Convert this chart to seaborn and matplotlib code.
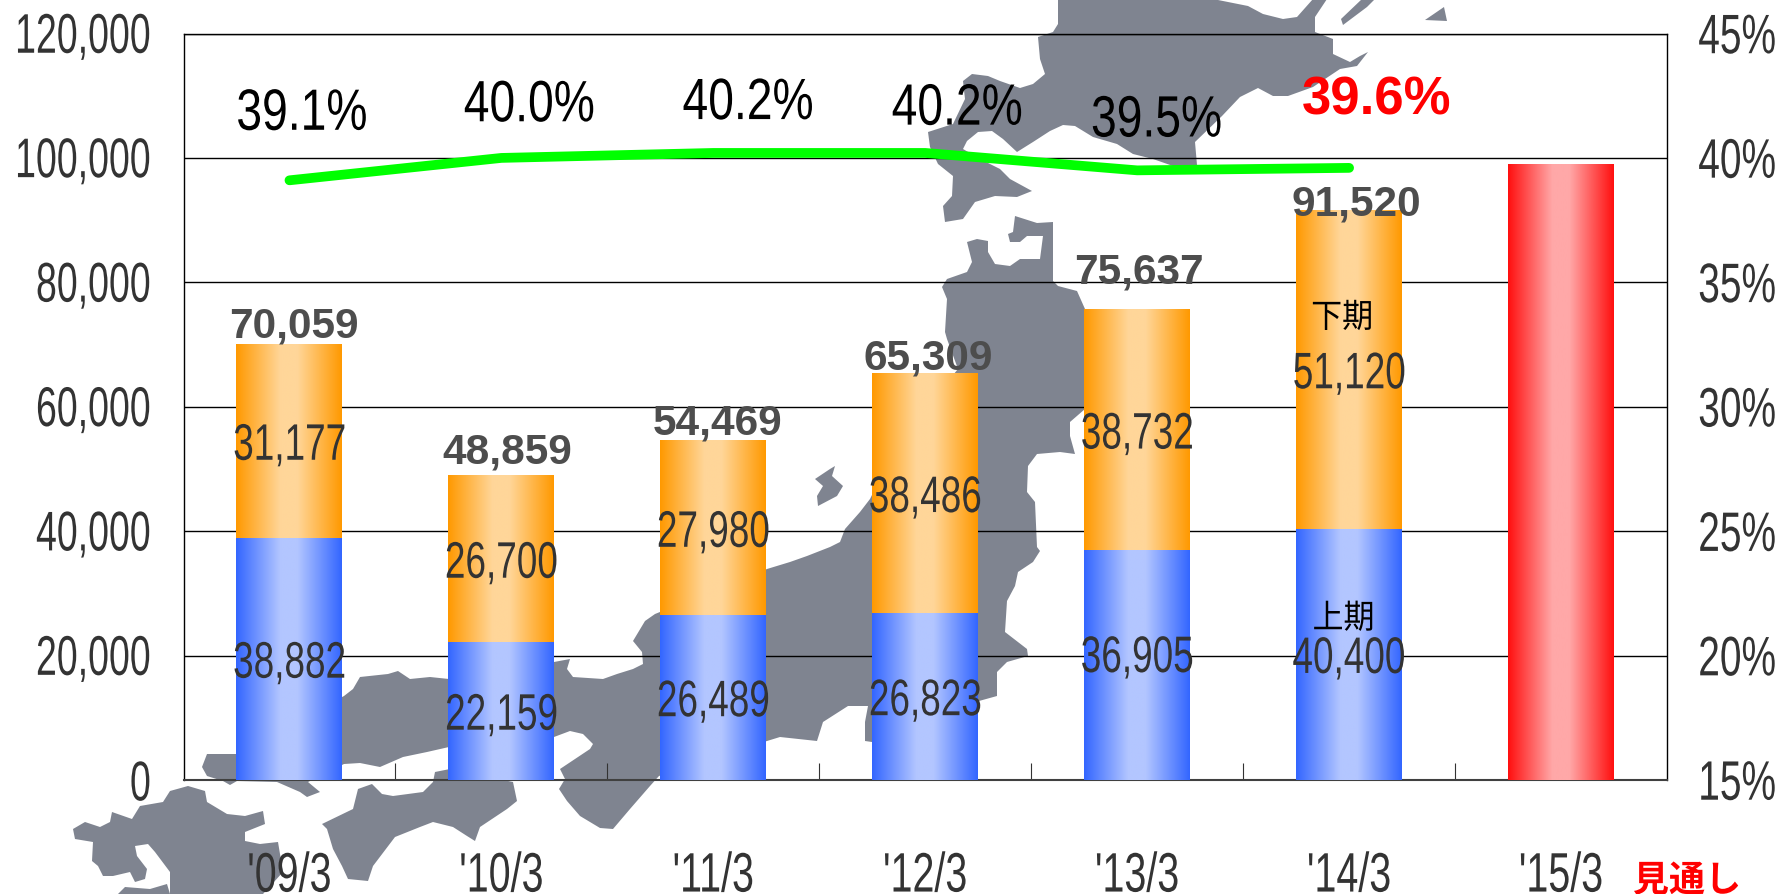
import matplotlib
matplotlib.use('Agg')
import matplotlib.pyplot as plt
import matplotlib.patheffects as pe
from matplotlib.colors import LinearSegmentedColormap
from matplotlib.transforms import Affine2D
import numpy as np
import pandas as pd
import seaborn as sns

years = ["'09/3", "'10/3", "'11/3", "'12/3", "'13/3", "'14/3", "'15/3"]
first_half = [38882, 22159, 26489, 26823, 36905, 40400]
second_half = [31177, 26700, 27980, 38486, 38732, 51120]
totals = [70059, 48859, 54469, 65309, 75637, 91520]
forecast = [99000]
ratio = [39.1, 40.0, 40.2, 40.2, 39.5, 39.6]
ratio_labels = ['39.1%', '40.0%', '40.2%', '40.2%', '39.5%', '39.6%']
yticks_left = [0, 20000, 40000, 60000, 80000, 100000, 120000]
yticks_right = [15, 20, 25, 30, 35, 40, 45]

# label nudges in points, relative to the top of the bar / the line point
total_offsets = [(3, 13.5), (4, 17.5), (3, 13.5), (2.5, 11.5), (1.6, 27.5), (5, 5)]
ratio_offsets = [(9, 48), (20, 38), (25, 36), (23, 32), (14, 36), (20, 49.5)]

# background map outlines, in image pixels
hokkaido = [(1058,0),(1058,25),(1053,33),(1038,38),(1040,60),(1045,75),(1033,85),(1020,89),(1000,82),
    (988,77),(972,75),(963,82),(965,100),(953,125),(928,133),(930,148),(938,165),(953,177),(952,197),
    (943,207),(945,223),(963,220),(975,203),(995,197),(1017,198),(1032,192),(1010,180),(1000,170),
    (980,160),(963,150),(967,142),(978,133),(992,132),(1003,140),(1017,153),(1033,143),(1050,132),
    (1063,126),(1075,127),(1093,138),(1117,145),(1133,155),(1153,160),(1173,167),(1197,166),(1195,143),
    (1222,117),(1240,98),(1258,89),(1273,97),(1288,97),(1313,88),(1340,70),(1357,67),(1368,53),(1360,57),
    (1350,63),(1333,55),(1333,40),(1315,33),(1315,18),(1327,0),(1313,0),(1297,18),(1283,20),(1263,15),
    (1248,7),(1213,0)]
kuril_a = [(1343,26),(1367,8),(1375,0),(1362,0),(1341,20)]
kuril_b = [(1425,21),(1444,8),(1447,22)]
honshu = [(1015,217),(1013,233),(1008,235),(1010,243),(1020,243),(1027,237),(1043,237),(1040,260),
    (1020,260),(1010,267),(995,265),(988,253),(988,242),(977,240),(967,243),(972,263),(967,273),(947,280),
    (942,288),(947,300),(945,333),(947,340),(958,370),(900,440),(870,500),(860,513),(845,530),(840,543),
    (830,548),(807,557),(790,563),(767,570),(655,615),(645,622),(633,642),(642,653),(643,665),(633,670),
    (617,675),(603,680),(573,678),(567,670),(570,660),(554,663),(449,680),(430,678),(410,680),(398,672),
    (388,675),(360,678),(353,690),(344,697),(236,755),(207,755),(202,768),(207,777),(223,782),(230,786),
    (237,782),(277,783),(300,793),(307,798),(320,793),(308,783),(344,765),(360,764),(380,768),(403,758),
    (427,753),(449,748),(554,738),(570,732),(583,735),(593,745),(590,750),(560,770),(565,780),(559,790),
    (567,802),(580,817),(600,829),(613,830),(630,810),(650,787),(659,777),(767,742),(780,738),(817,742),
    (823,723),(848,707),(868,707),(865,723),(865,742),(872,743),(979,702),(997,697),(997,673),(1007,663),
    (1028,657),(1027,650),(1005,633),(1007,602),(1015,587),(1018,573),(1033,563),(1040,552),(1037,548),
    (1035,503),(1027,493),(1028,467),(1037,455),(1060,453),(1075,455),(1070,437),(1070,423),(1085,410),
    (1085,310),(1077,292),(1058,287),(1053,282),(1053,223),(1037,224)]
sado = [(815,480),(830,470),(835,467),(832,477),(843,487),(837,497),(818,507),(817,497),(823,487)]
shikoku = [(435,773),(450,770),(513,783),(517,802),(507,810),(480,828),(475,842),(467,837),(453,828),
    (433,823),(420,828),(395,838),(373,867),(368,882),(348,880),(342,867),(333,850),(327,830),(322,825),
    (353,810),(358,790),(372,785),(382,795),(393,797),(423,793),(433,783)]
kyushu = [(73,830),(85,823),(100,828),(110,823),(112,813),(132,820),(140,807),(163,803),(170,792),(188,787),
    (205,792),(207,803),(227,815),(245,817),(263,812),(265,825),(245,833),(245,842),(260,845),(278,843),
    (283,873),(263,895),(170,895),(170,873),(155,853),(148,845),(135,847),(137,857),(147,870),(145,880),
    (135,883),(130,873),(113,877),(103,877),(98,867),(92,862),(93,843),(75,840)]
kyushu_south = [(118,895),(125,888),(150,890),(167,885),(170,895)]
map_shapes = [hokkaido, kuril_a, kuril_b, honshu, sado, shikoku, kyushu, kyushu_south]


class Stretch(pe.AbstractPathEffect):
    ''' Make the glyphs taller around their middle, the source chart has stretched text '''
    def __init__(self, sy):
        super().__init__()
        self.sy = sy

    def draw_path(self, renderer, gc, tpath, affine, rgbFace=None):
        ys = tpath.vertices[:, 1]
        mid = (ys.min() + ys.max()) / 2
        stretch = Affine2D().translate(0, -mid).scale(1, self.sy).translate(0, mid)
        renderer.draw_path(gc, tpath, stretch + affine, rgbFace)


def fill_gradient(ax, patches, edge, center):
    cmap = LinearSegmentedColormap.from_list('bar', [(0, edge), (0.42, center), (0.58, center), (1, edge)])
    ramp = np.linspace(0, 1, 256).reshape(1, -1)
    for p in patches:
        x, y = p.get_x(), p.get_y()
        ax.imshow(ramp, cmap=cmap, aspect='auto', zorder=2.5, interpolation='bilinear',
                  extent=(x, x + p.get_width(), y, y + p.get_height()))


sns.set_theme(style='white')
plt.rcParams['font.family'] = ['Liberation Sans', 'Noto Sans CJK JP', 'DejaVu Sans']
W, H = 1785, 895
fig = plt.figure(figsize=(W / 100, H / 100), dpi=100, facecolor='white')

bg = fig.add_axes([0, 0, 1, 1], zorder=0)
bg.set_xlim(0, W)
bg.set_ylim(H, 0)
bg.axis('off')
for shape in map_shapes:
    bg.fill(*zip(*shape), color='#7f8490', lw=0)

left, right, top, bottom = 183.5, 1667, 34.5, 781
ax = fig.add_axes([left / W, 1 - bottom / H, (right - left) / W, (bottom - top) / H], zorder=1)
ax.patch.set_visible(False)

df = pd.DataFrame({'year': years[:6], 'first_half': first_half, 'second_half': second_half})
df_fc = pd.DataFrame({'year': years[6:], 'forecast': forecast})
bar_kw = dict(order=years, saturation=1, width=0.5, ax=ax, zorder=2, linewidth=0, edgecolor='none')
sns.barplot(data=df, x='year', y='first_half', color='#3366ff', **bar_kw)
sns.barplot(data=df, x='year', y='second_half', color='#ff9900', bottom=first_half, **bar_kw)
sns.barplot(data=df_fc, x='year', y='forecast', color='#ff0000', **bar_kw)

fill_gradient(ax, ax.containers[0].patches, '#3366ff', '#b3c6ff')
fill_gradient(ax, ax.containers[1].patches, '#ff9900', '#ffd699')
fill_gradient(ax, ax.containers[2].patches, '#ff0f0f', '#ffa8a8')

seg_kw = dict(label_type='center', fontsize=26.6, color='#333333', zorder=5,
              path_effects=[Stretch(1.39)])
low_labels = ax.bar_label(ax.containers[0], labels=[f'{v:,}' for v in first_half], **seg_kw)
high_labels = ax.bar_label(ax.containers[1], labels=[f'{v:,}' for v in second_half], **seg_kw)
for label in list(low_labels) + list(high_labels):
    label.xyann = (0, -3.6)
low_labels[4].xyann = (0, 4.9)

for i, v in enumerate(totals):
    ax.annotate(f'{v:,}', xy=(i, v), xytext=total_offsets[i], textcoords='offset points',
                ha='center', va='center', fontsize=30.5, fontweight='bold', color='#4d4d4d', zorder=6)

ax.annotate('下期', xy=(5, 40400 + 51120 * 0.65), ha='center', va='center', fontsize=22.3, color='black',
            xytext=(-5, 2.5), textcoords='offset points', zorder=6, path_effects=[Stretch(1.075)])
ax.annotate('上期', xy=(5, 26500), ha='center', va='center', fontsize=22.3, color='black',
            xytext=(-4, -3), textcoords='offset points', zorder=6, path_effects=[Stretch(1.075)])

ax.set_xlim(-0.5, 6.5)
ax.set_ylim(0, 120000)
ax.set_yticks(yticks_left)
ax.set_yticklabels([f'{v:,}' for v in yticks_left], fontsize=27, color='#333333',
                   path_effects=[Stretch(1.49)])
ax.set_xticks(np.arange(0.5, 6.5), labels=[])
ax.set_xticks(range(7), labels=years, minor=True, fontsize=28.4, color='#333333',
              path_effects=[Stretch(1.41)])
ax.tick_params(axis='x', which='major', direction='in', bottom=True, length=12, width=0.8, color='#333333')
ax.tick_params(axis='x', which='minor', bottom=False, pad=52)
ax.set(xlabel='', ylabel='')
ax.grid(True, axis='y', color='black', lw=1, zorder=1)
ax.set_axisbelow(True)
for name, spine in ax.spines.items():
    spine.set_visible(True)
    spine.set_color('black' if name != 'bottom' else '#404040')
    spine.set_linewidth(1 if name != 'bottom' else 1.5)
    spine.set_zorder(1.5)

ax2 = ax.twinx()
ax2.patch.set_visible(False)
ax.tick_params(axis='y', left=False, pad=17.5)
sns.lineplot(x=np.arange(6), y=ratio, color='#00ff00', linewidth=7, errorbar=None,
             solid_capstyle='round', ax=ax2)
ax2.set_xlim(-0.5, 6.5)
ax2.set_ylim(15, 45)
ax2.set_yticks(yticks_right)
ax2.set_yticklabels([f'{v}%' for v in yticks_right], fontsize=28, color='#333333',
                    path_effects=[Stretch(1.43)])
ax2.tick_params(axis='y', right=False, pad=16.5)
for spine in ax2.spines.values():
    spine.set_visible(False)

for i, v in enumerate(ratio):
    last = i == len(ratio) - 1
    ax2.annotate(ratio_labels[i], xy=(i, v), xytext=ratio_offsets[i], textcoords='offset points',
                 ha='center', va='center', fontsize=38 if last else 33.3,
                 fontweight='bold' if last else 'normal', color='#ff0000' if last else 'black',
                 path_effects=[] if last else [Stretch(1.26)])

# the CJK line box is tall, keep it inside the figure and move the glyphs down
fig.text(1687 / W, 1 - 868 / H, '見通し', ha='center', va='center', fontsize=26, fontweight='bold',
         color='#ff0000', family=['Noto Sans CJK JP', 'DejaVu Sans'], zorder=5,
         path_effects=[pe.Stroke(offset=(0, -10), linewidth=0)])

fig.savefig('out.png', dpi=100)
